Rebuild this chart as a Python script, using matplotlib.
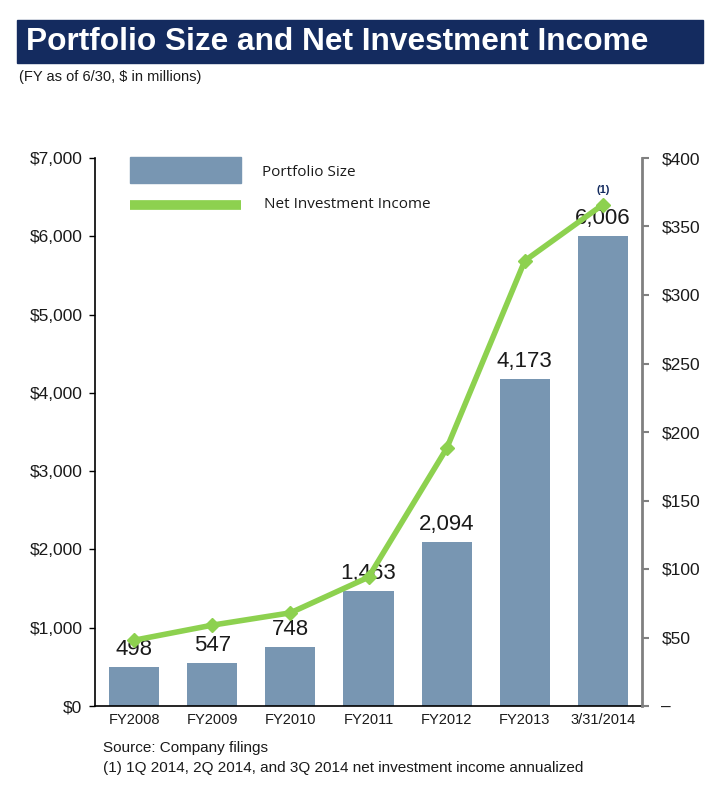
import numpy as np
import matplotlib
matplotlib.use("Agg")
import matplotlib.pyplot as plt
from matplotlib.patches import Rectangle
from matplotlib.lines import Line2D

plt.rcParams['font.family'] = ['Liberation Sans', 'DejaVu Sans']

categories = ["FY2008", "FY2009", "FY2010", "FY2011", "FY2012", "FY2013", "3/31/2014"]
portfolio = [498, 547, 748, 1463, 2094, 4173, 6006]
nii = [48, 59, 68, 94, 188, 325, 366]
left_ticks = [0, 1000, 2000, 3000, 4000, 5000, 6000, 7000]
right_ticks = [0, 50, 100, 150, 200, 250, 300, 350, 400]

bar_col = "#7896b2"
line_col = "#8dd14f"
navy = "#142b5f"
txt = "#1a1a1a"

fig = plt.figure(figsize=(7.24, 7.93), dpi=100)

# title banner
fig.patches.append(Rectangle((17/724, 1-63/793), 686/724, 43/793,
                             transform=fig.transFigure, color=navy, zorder=0))
fig.text(26/724, 1-42/793, "Portfolio Size and Net Investment Income", color="white",
         fontsize=22.8, fontweight="bold", va="center", ha="left")
fig.text(19/724, 1-77/793, "(FY as of 6/30, $ in millions)", fontsize=10.5, color=txt,
         va="center")

ax = fig.add_axes([95/724, 1-706/793, 547/724, 548/793])
x = np.arange(len(categories))
ax.bar(x, portfolio, width=0.64, color=bar_col, zorder=2)
for xi, v in zip(x, portfolio):
    ax.text(xi, v + 90, f"{v:,}", ha="center", va="bottom", fontsize=16, color=txt, zorder=5)

ax.set_xlim(-0.5, len(categories) - 0.5)
ax.set_ylim(0, 7000)
ax.set_yticks(left_ticks)
ax.set_yticklabels([f"${t:,}" for t in left_ticks], fontsize=12.5, color=txt)
ax.set_xticks(x)
ax.set_xticklabels(categories, fontsize=10.5, color=txt)
ax.tick_params(axis="x", length=0, pad=5)
ax.tick_params(axis="y", length=4, width=1, direction="out", pad=5)
ax.spines["top"].set_visible(False)
ax.spines["right"].set_visible(False)
ax.spines["left"].set_linewidth(1.2)
ax.spines["bottom"].set_linewidth(1.2)

ax2 = ax.twinx()
ax2.plot(x, nii, color=line_col, lw=4, marker="D", ms=7, zorder=4)
ax2.set_ylim(0, 400)
ax2.set_yticks(right_ticks)
ax2.set_yticklabels(["–"] + [f"${t}" for t in right_ticks[1:]], fontsize=12.5, color=txt)
ax2.tick_params(axis="y", length=5, width=1.5, color="#808080", direction="out", pad=9)
for s in ["top", "left", "bottom"]:
    ax2.spines[s].set_visible(False)
ax2.spines["right"].set_color("#808080")
ax2.spines["right"].set_linewidth(2)
ax2.text(x[-1], 377, "(1)", ha="center", va="center", fontsize=8, fontweight="bold",
         color=navy)

# legend
fig.patches.append(Rectangle((130/724, 1-183/793), 111/724, 26/793,
                             transform=fig.transFigure, color=bar_col))
fig.lines.append(Line2D([130/724, 241/724], [1-205/793, 1-205/793],
                        transform=fig.transFigure, color=line_col, lw=7,
                        solid_capstyle="butt"))
fig.text(262/724, 1-173/793, "Portfolio Size", fontsize=11, color=txt, va="center",
         family=['Open Sans', 'DejaVu Sans'])
fig.text(264/724, 1-205/793, "Net Investment Income", fontsize=11, color=txt, va="center",
         family=['Open Sans', 'DejaVu Sans'])

fig.text(103/724, 1-748/793, "Source: Company filings", fontsize=11, color=txt, va="center")
fig.text(103/724, 1-768/793, "(1) 1Q 2014, 2Q 2014, and 3Q 2014 net investment income annualized",
         fontsize=11, color=txt, va="center")

fig.savefig("out.png", dpi=100)
